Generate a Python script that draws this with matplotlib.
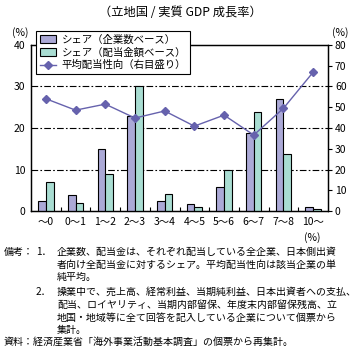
import matplotlib.pyplot as plt
import numpy as np

plt.rcParams['font.family'] = ['Noto Sans CJK JP', 'DejaVu Sans']

categories = ["～0", "0～1", "1～2", "2～3", "3～4", "4～5", "5～6", "6～7", "7～8", "10～"]
share_count = [2.3, 3.8, 15.0, 23.0, 2.4, 1.7, 5.8, 18.8, 27.0, 0.9]
share_amount = [7.0, 2.0, 8.9, 30.0, 4.2, 1.0, 9.9, 23.8, 13.7, 0.5]
payout_ratio = [54.1, 48.6, 51.5, 44.8, 48.2, 40.9, 46.2, 36.6, 49.5, 66.9]

c_count = "#aba9d6"
c_amount = "#a9ddd2"
c_line = "#6662ad"

fig = plt.figure(figsize=(3.59, 3.51), dpi=100)
ax = fig.add_axes([31/359, 1 - 211/351, 297/359, 166/351])
ax2 = ax.twinx()

x = np.arange(len(categories))
w = 0.26
b1 = ax.bar(x - w/2, share_count, w, color=c_count, edgecolor="black", linewidth=0.8,
            label="シェア（企業数ベース）", zorder=3)
b2 = ax.bar(x + w/2, share_amount, w, color=c_amount, edgecolor="black", linewidth=0.8,
            label="シェア（配当金額ベース）", zorder=3)
ln, = ax2.plot(x, payout_ratio, color=c_line, marker="D", markersize=4, linewidth=1.0,
               label="平均配当性向（右目盛り）")

ax.set_xlim(-0.5, len(categories) - 0.5)
ax.set_ylim(0, 40)
ax2.set_ylim(0, 80)
ax.set_yticks([0, 10, 20, 30, 40])
ax2.set_yticks(range(0, 81, 10))
for yv in [10, 20, 30]:
    ax.axhline(yv, color="black", linewidth=0.8, linestyle=(0, (6, 2, 1.5, 2)), zorder=1)

ax.set_xticks(x)
ax.set_xticklabels(categories, fontsize=7.5)
ax.set_xticks(np.arange(0.5, len(categories) - 1, 1), minor=True)
ax.tick_params(axis="x", which="major", length=0, pad=4)
ax.tick_params(axis="x", which="minor", direction="in", length=3, width=0.8)
ax.tick_params(axis="y", length=0, labelsize=7.5, pad=4)
ax2.tick_params(axis="y", length=3, width=0.8, labelsize=7.5, pad=2)
for a in (ax, ax2):
    for s in a.spines.values():
        s.set_linewidth(0.9)

leg = ax2.legend(handles=[b1, b2, ln], loc="upper left", bbox_to_anchor=(5/297, 1 + 14/166),
                 fontsize=7.5, frameon=True, fancybox=False, edgecolor="black",
                 borderpad=0.35, labelspacing=0.25, handlelength=1.6, handletextpad=0.5,
                 borderaxespad=0, framealpha=1)
leg.get_frame().set_linewidth(0.8)

fig.text(180/359, 1 - 13/351, "（立地国 / 実質 GDP 成長率）", ha="center", va="center", fontsize=8.8)
fig.text(20/359, 1 - 33/351, "(%)", ha="center", va="center", fontsize=7.5)
fig.text(340/359, 1 - 33/351, "(%)", ha="center", va="center", fontsize=7.5)
fig.text(312/359, 1 - 238/351, "(%)", ha="center", va="center", fontsize=7.5)

notes = [
    (4, 252, "備考："), (36, 252, "1．"),
    (57, 252, "企業数、配当金は、それぞれ配当している全企業、日本側出資"),
    (57, 265, "者向け全配当金に対するシェア。平均配当性向は該当企業の単"),
    (57, 277, "純平均。"),
    (36, 292, "2．"),
    (57, 292, "操業中で、売上高、経常利益、当期純利益、日本出資者への支払、"),
    (57, 305, "配当、ロイヤリティ、当期内部留保、年度末内部留保残高、立"),
    (57, 318, "地国・地域等に全て回答を記入している企業について個票から"),
    (57, 330, "集計。"),
    (4, 342, "資料：経済産業省「海外事業活動基本調査」の個票から再集計。"),
]
for nx, ny, t in notes:
    fig.text(nx/359, 1 - ny/351, t, ha="left", va="center", fontsize=7.2)

fig.savefig("out.png", dpi=100)
